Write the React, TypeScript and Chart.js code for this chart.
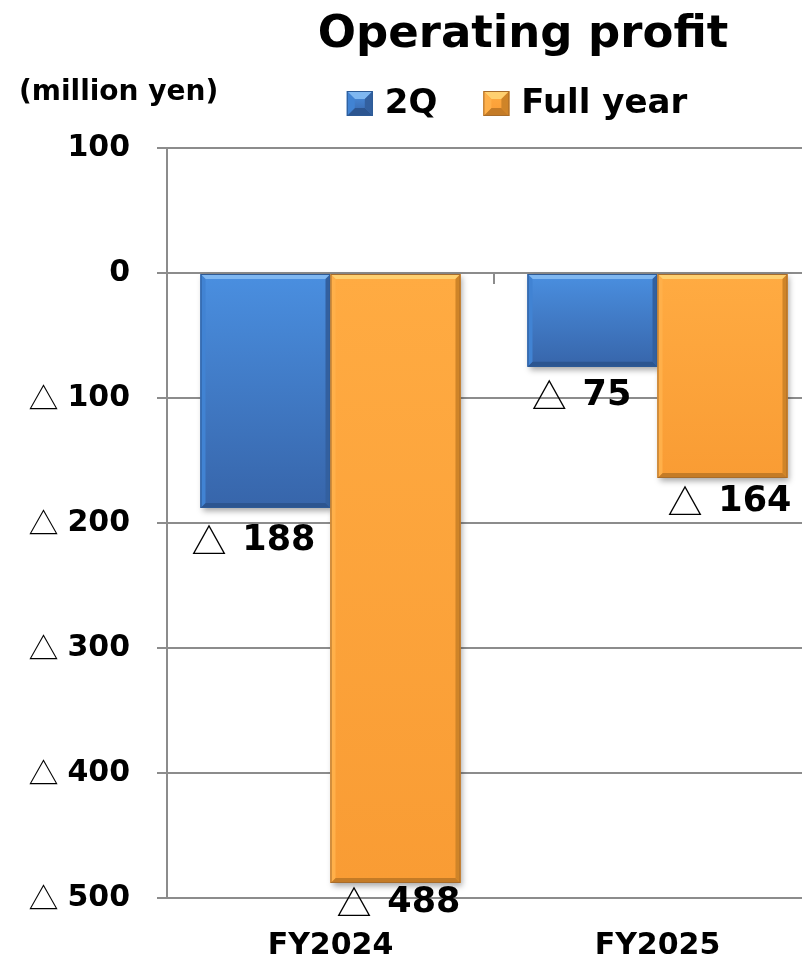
import { useEffect, useRef } from 'react';
import { Chart, registerables } from 'chart.js';

Chart.register(...registerables);

// ---- data ----
const categories = ['FY2024', 'FY2025'];
const seriesNames = ['2Q', 'Full year'];
const q2Values = [-188, -75];
const fullYearValues = [-488, -164];
const yMin = -500;
const yMax = 100;
const yStep = 100;
const titleText = 'Operating profit';
const unitText = '(million yen)';

// ---- styles ----
const NUM_FONT = '"DejaVu Sans", Verdana, sans-serif';
const TRI_FONT = '"Noto Sans CJK JP", "DejaVu Sans", sans-serif';
const GRID = '#8c8c8c';
// small manual nudges of the value labels (per series, per category), like the hand-placed labels of the original
const LABEL_NUDGE_X = [[-12, -11], [3, 7]];
const LABEL_NUDGE_Y = [[6, 2], [-7, -3]];

const BAR_STYLES = [
  { base: '#3f7dcc', top: '#4a8fe0', bottom: '#3765aa', hi: '#7fb7f1', lo: '#2c5590', side: '#4183d3', sideDark: '#33609f', edge: '#2d5a96' },
  { base: '#fba33a', top: '#ffab42', bottom: '#f99c34', hi: '#ffd070', lo: '#c47b26', side: '#ffb04a', sideDark: '#cf8428', edge: '#a86c2a' },
];

function drawValueText(ctx: CanvasRenderingContext2D, value: number, x: number, y: number, size: number, align: 'right' | 'center', gapRatio: number) {
  const num = String(Math.abs(value));
  ctx.font = `bold ${size}px ${NUM_FONT}`;
  const numW = ctx.measureText(num).width;
  let triW = 0;
  let gap = 0;
  if (value < 0) {
    ctx.font = `${size}px ${TRI_FONT}`;
    triW = ctx.measureText('△').width;
    gap = size * gapRatio;
  }
  const total = triW + gap + numW;
  const left = align === 'right' ? x - total : x - total / 2;
  ctx.textBaseline = 'middle';
  ctx.textAlign = 'left';
  ctx.fillStyle = '#000';
  if (value < 0) {
    ctx.font = `${size}px ${TRI_FONT}`;
    ctx.fillText('△', left, y);
  }
  ctx.font = `bold ${size}px ${NUM_FONT}`;
  ctx.fillText(num, left + triW + gap, y);
}

function drawBevelRect(ctx: CanvasRenderingContext2D, l: number, t: number, r: number, b: number, st: any, bev: number) {
  const g = ctx.createLinearGradient(0, t, 0, b);
  g.addColorStop(0, st.top);
  g.addColorStop(1, st.bottom);
  ctx.fillStyle = g;
  ctx.fillRect(l, t, r - l, b - t);
  const e = Math.min(bev, (r - l) / 2, (b - t) / 2);
  const poly = (pts: number[][], color: string) => {
    ctx.beginPath();
    ctx.moveTo(pts[0][0], pts[0][1]);
    for (let i = 1; i < pts.length; i++) ctx.lineTo(pts[i][0], pts[i][1]);
    ctx.closePath();
    ctx.fillStyle = color;
    ctx.fill();
  };
  poly([[l, t], [r, t], [r - e, t + e], [l + e, t + e]], st.hi);
  poly([[l, b], [r, b], [r - e, b - e], [l + e, b - e]], st.lo);
  poly([[l, t], [l + e, t + e], [l + e, b - e], [l, b]], st.side);
  poly([[r, t], [r - e, t + e], [r - e, b - e], [r, b]], st.sideDark);
  ctx.strokeStyle = st.edge;
  ctx.lineWidth = 1;
  ctx.strokeRect(l + 0.5, t + 0.5, r - l - 1, b - t - 1);
}

const barLookPlugin = {
  id: 'barLook',
  beforeDatasetsDraw(chart: any) {
    const ctx = chart.ctx;
    ctx.save();
    ctx.shadowColor = 'rgba(0,0,0,0.35)';
    ctx.shadowBlur = 6;
    ctx.shadowOffsetX = 2;
    ctx.shadowOffsetY = 3;
  },
  afterDatasetsDraw(chart: any) {
    const ctx = chart.ctx;
    ctx.restore();
    chart.data.datasets.forEach((_ds: any, di: number) => {
      const meta = chart.getDatasetMeta(di);
      meta.data.forEach((el: any) => {
        const { x, y, base, width } = el.getProps(['x', 'y', 'base', 'width'], true);
        const l = x - width / 2;
        const r = x + width / 2;
        const t = Math.min(y, base);
        const b = Math.max(y, base);
        drawBevelRect(ctx, l, t, r, b, BAR_STYLES[di], 5);
      });
    });
  },
  afterDraw(chart: any) {
    const ctx = chart.ctx;
    const xs = chart.scales.x;
    const ys = chart.scales.y;
    ctx.save();
    // category separator tick on the zero line
    const y0 = ys.getPixelForValue(0);
    for (let i = 0; i < categories.length - 1; i++) {
      const bx = (xs.getPixelForValue(i) + xs.getPixelForValue(i + 1)) / 2;
      ctx.strokeStyle = GRID;
      ctx.lineWidth = 2;
      ctx.beginPath();
      ctx.moveTo(bx, y0);
      ctx.lineTo(bx, y0 + 11);
      ctx.stroke();
    }
    // y tick labels
    ys.ticks.forEach((tk: any) => {
      drawValueText(ctx, tk.value, ys.right - 37, ys.getPixelForValue(tk.value), 30, 'right', 0.3);
    });
    // data labels
    chart.data.datasets.forEach((ds: any, di: number) => {
      const meta = chart.getDatasetMeta(di);
      meta.data.forEach((el: any, i: number) => {
        const v = ds.data[i];
        const end = Math.max(el.y, el.base);
        drawValueText(ctx, v, el.x + LABEL_NUDGE_X[di][i], end + 27 + LABEL_NUDGE_Y[di][i], 35, 'center', 0.45);
      });
    });
    // title
    ctx.fillStyle = '#000';
    ctx.textAlign = 'center';
    ctx.textBaseline = 'alphabetic';
    ctx.font = `bold 45px ${NUM_FONT}`;
    ctx.fillText(titleText, 523, 47);
    // unit
    ctx.textAlign = 'left';
    ctx.font = `bold 28px ${NUM_FONT}`;
    ctx.fillText(unitText, 19, 100);
    // legend
    ctx.font = `bold 34px ${NUM_FONT}`;
    const boxW = 26;
    const boxH = 25;
    const textGap = 12;
    const itemGap = 46;
    const widths = seriesNames.map((n) => boxW + textGap + ctx.measureText(n).width);
    const total = widths.reduce((a, b) => a + b, 0) + itemGap * (seriesNames.length - 1);
    let lx = 517 - total / 2;
    seriesNames.forEach((n, i) => {
      drawBevelRect(ctx, lx, 91, lx + boxW, 91 + boxH, BAR_STYLES[i], 8);
      ctx.fillStyle = '#000';
      ctx.textAlign = 'left';
      ctx.textBaseline = 'alphabetic';
      ctx.font = `bold 34px ${NUM_FONT}`;
      ctx.fillText(n, lx + boxW + textGap, 113);
      lx += widths[i] + itemGap;
    });
    ctx.restore();
  },
};

export default function App() {
  const ref = useRef<HTMLCanvasElement>(null);
  useEffect(() => {
    if (!ref.current) return;
    const chart = new Chart(ref.current, {
      type: 'bar',
      data: {
        labels: categories,
        datasets: [
          { label: seriesNames[0], data: q2Values, backgroundColor: BAR_STYLES[0].base, borderWidth: 0 },
          { label: seriesNames[1], data: fullYearValues, backgroundColor: BAR_STYLES[1].base, borderWidth: 0 },
        ],
      },
      options: {
        responsive: true,
        maintainAspectRatio: false,
        animation: false,
        layout: { padding: { top: 148, left: 0, right: 0, bottom: 0 } },
        datasets: { bar: { categoryPercentage: 0.795, barPercentage: 1 } },
        plugins: {
          legend: { display: false },
          title: { display: false },
          tooltip: { enabled: false },
        },
        scales: {
          x: {
            grid: { display: false, drawTicks: false },
            border: { display: false },
            ticks: { color: '#000', padding: 30, font: { family: NUM_FONT, size: 30, weight: 'bold' } },
            afterFit: (s: any) => { s.height = 60; },
          },
          y: {
            min: yMin,
            max: yMax,
            ticks: { stepSize: yStep, display: false },
            grid: { color: GRID, lineWidth: 2, tickLength: 10, drawTicks: true },
            border: { display: true, color: GRID, width: 2 },
            afterFit: (s: any) => { s.width = 167; },
          },
        },
      } as any,
      plugins: [barLookPlugin],
    });
    return () => chart.destroy();
  }, []);
  return (
    <div style={{ position: 'fixed', left: 0, top: 0, width: 802, height: 958, overflow: 'hidden', background: '#fff' }}>
      <div style={{ position: 'relative', width: 821, height: 958 }}>
        <canvas ref={ref} />
      </div>
    </div>
  );
}
